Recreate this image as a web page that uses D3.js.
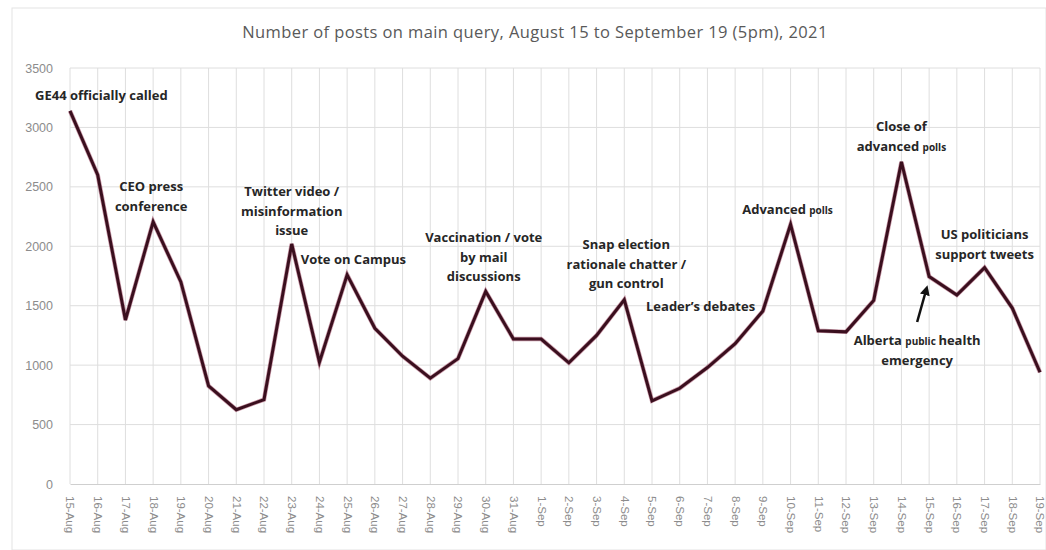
<!DOCTYPE html>
<html lang="en">
<head>
    <meta charset="UTF-8">
    <title>Number of posts on main query</title>
    <script src="https://d3js.org/d3.v7.min.js"></script>
    <style>
        body{
            margin: 0;
            background: #ffffff;
            font-family: "Open Sans", "Noto Sans", sans-serif;
        }
        .title{
            font-size: 16.5px;
            letter-spacing: 0.4px;
            fill: #595959;
        }
        .tick text{
            font-size: 12.5px;
            fill: #8c8c8c;
        }
        .xlab text{
            font-size: 11.5px;
        }
        .note{
            font-size: 13px;
            font-weight: bold;
            fill: #262626;
        }
        .small{
            font-size: 10px;
        }
    </style>
</head>
<body>
<svg id="chart" width="1046" height="550"></svg>
<script>
    // categories (days) and counts
    let days = ["15-Aug", "16-Aug", "17-Aug", "18-Aug", "19-Aug", "20-Aug", "21-Aug", "22-Aug",
        "23-Aug", "24-Aug", "25-Aug", "26-Aug", "27-Aug", "28-Aug", "29-Aug", "30-Aug", "31-Aug",
        "1-Sep", "2-Sep", "3-Sep", "4-Sep", "5-Sep", "6-Sep", "7-Sep", "8-Sep", "9-Sep", "10-Sep",
        "11-Sep", "12-Sep", "13-Sep", "14-Sep", "15-Sep", "16-Sep", "17-Sep", "18-Sep", "19-Sep"]
    let posts = [3140, 2600, 1380, 2205, 1700, 825, 625, 710,
        2020, 1025, 1760, 1310, 1075, 890, 1055, 1620, 1220,
        1220, 1020, 1250, 1550, 700, 805, 980, 1180, 1455, 2185,
        1290, 1280, 1545, 2710, 1745, 1590, 1820, 1480, 940]
    let yTicks = [0, 500, 1000, 1500, 2000, 2500, 3000, 3500]

    // annotations: day it sits near, lines of text, small words
    let notes = [
        {day: "15-Aug", dx: -35, y: 100, anchor: "start", lines: [["GE44 officially called"]]},
        {day: "18-Aug", dx: -2, y: 191, anchor: "middle", lines: [["CEO press"], ["conference"]]},
        {day: "23-Aug", dx: 0, y: 196, anchor: "middle", lines: [["Twitter video /"], ["misinformation"], ["issue"]]},
        {day: "23-Aug", dx: 9, y: 264, anchor: "start", lines: [["Vote on Campus"]]},
        {day: "30-Aug", dx: -2, y: 242, anchor: "middle", lines: [["Vaccination / vote"], ["by mail"], ["discussions"]]},
        {day: "4-Sep", dx: 2, y: 249, anchor: "middle", lines: [["Snap election"], ["rationale chatter /"], ["gun control"]]},
        {day: "5-Sep", dx: -6, y: 311, anchor: "start", lines: [["Leader\u2019s debates"]]},
        {day: "10-Sep", dx: -3, y: 214, anchor: "middle", lines: [["Advanced ", "polls"]]},
        {day: "14-Sep", dx: 0, y: 131, anchor: "middle", lines: [["Close of"], ["advanced ", "polls"]]},
        {day: "17-Sep", dx: 0, y: 239, anchor: "middle", lines: [["US politicians"], ["support tweets"]]},
        {day: "15-Sep", dx: -12, y: 345, anchor: "middle", lines: [["Alberta ", "public ", "health"], ["emergency"]]}
    ]
    let smallWords = ["polls", "public "]

    let width = 1046
    let height = 550
    let margin = {top: 68, right: 6, bottom: 66, left: 70}

    let svg = d3.select("#chart")

    // chart frame
    svg.append("rect")
        .attr("x", 12).attr("y", 8)
        .attr("width", width - 12).attr("height", height - 8)
        .attr("fill", "white")
        .attr("stroke", "#e3e3e3")

    svg.append("text")
        .attr("class", "title")
        .attr("x", 535).attr("y", 38)
        .attr("text-anchor", "middle")
        .text("Number of posts on main query, August 15 to September 19 (5pm), 2021")

    let x = d3.scalePoint()
        .domain(days)
        .range([margin.left, width - margin.right])

    let y = d3.scaleLinear()
        .domain([0, 3500])
        .range([height - margin.bottom, margin.top])

    // gridlines
    svg.append("g")
        .selectAll("line")
        .data(yTicks.slice(1))
        .enter().append("line")
        .attr("x1", margin.left).attr("x2", width - margin.right)
        .attr("y1", d => y(d)).attr("y2", d => y(d))
        .attr("stroke", "#dedede")

    svg.append("g")
        .selectAll("line")
        .data(days)
        .enter().append("line")
        .attr("x1", d => x(d)).attr("x2", d => x(d))
        .attr("y1", y(3500)).attr("y2", y(0))
        .attr("stroke", "#dedede")

    // axes
    let yAxis = d3.axisLeft(y).tickValues(yTicks).tickFormat(d3.format("d")).tickSize(0).tickPadding(17)
    svg.append("g")
        .attr("transform", `translate(${margin.left},0)`)
        .call(yAxis)
        .call(g => g.select(".domain").remove())
        .selectAll("text").style("font-family", "inherit")

    let xAxis = d3.axisBottom(x).tickSize(0).tickPadding(0)
    let xg = svg.append("g")
        .attr("class", "xlab")
        .attr("transform", `translate(0,${y(0)})`)
        .call(xAxis)
    xg.select(".domain").attr("stroke", "#cfcfcf")
    xg.selectAll("text")
        .style("font-family", "inherit")
        .attr("transform", "rotate(90)")
        .attr("x", 12).attr("y", 0).attr("dy", "0.35em")
        .attr("text-anchor", "start")

    // the series
    let line = d3.line()
        .x((d, i) => x(days[i]))
        .y(d => y(d))

    svg.append("path")
        .datum(posts)
        .attr("d", line)
        .attr("fill", "none")
        .attr("stroke", "#8a2040")
        .attr("stroke-width", 4.4)
        .attr("opacity", 0.45)
    svg.append("path")
        .datum(posts)
        .attr("d", line)
        .attr("fill", "none")
        .attr("stroke", "#3a0f1e")
        .attr("stroke-width", 3)

    // annotations
    notes.forEach(n => {
        let t = svg.append("text")
            .attr("class", "note")
            .attr("text-anchor", n.anchor)
        n.lines.forEach((parts, li) => {
            parts.forEach((p, pi) => {
                let s = t.append("tspan").text(p)
                if (pi === 0) s.attr("x", x(n.day) + n.dx).attr("y", n.y + li * 19.5)
                if (smallWords.includes(p)) s.attr("class", "small")
            })
        })
    })

    // arrow for Alberta note
    svg.append("defs").append("marker")
        .attr("id", "head")
        .attr("viewBox", "0 0 10 10")
        .attr("refX", 5).attr("refY", 5)
        .attr("markerWidth", 4).attr("markerHeight", 4)
        .attr("orient", "auto-start-reverse")
        .append("path").attr("d", "M0,0 L10,5 L0,10 z").attr("fill", "#111")

    svg.append("line")
        .attr("x1", x("15-Sep") - 12).attr("y1", 322)
        .attr("x2", x("15-Sep") - 3).attr("y2", 290)
        .attr("stroke", "#111")
        .attr("stroke-width", 2.5)
        .attr("marker-end", "url(#head)")
</script>
</body>
</html>
